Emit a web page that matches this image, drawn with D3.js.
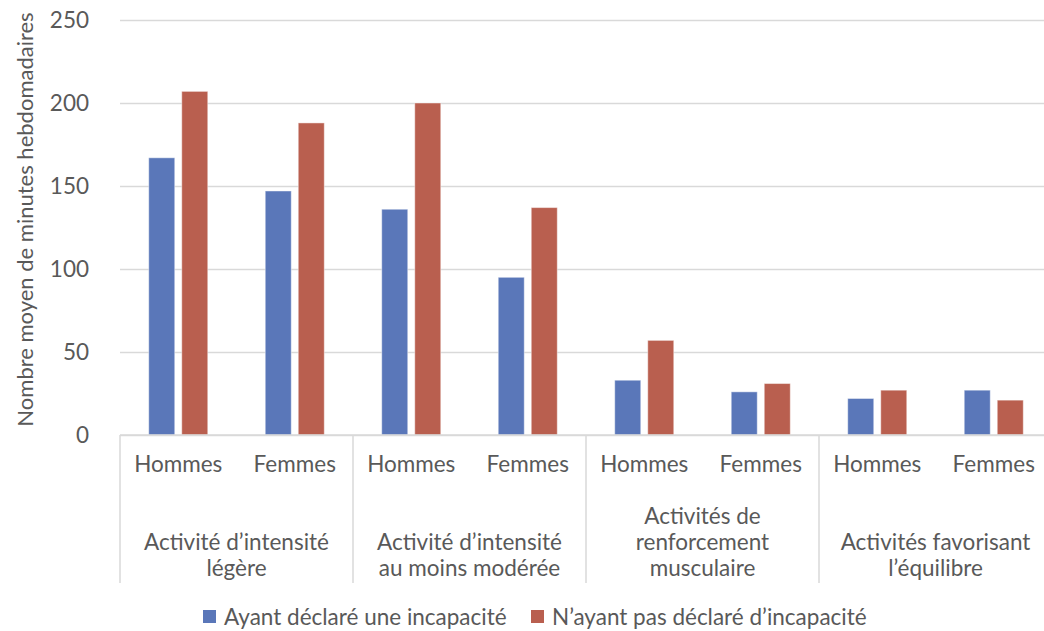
<!DOCTYPE html>
<html>
<head>
<meta charset="utf-8">
<script src="https://cdn.jsdelivr.net/npm/d3@7"></script>
<style>
  html, body { margin: 0; padding: 0; background: #ffffff; }
  svg { display: block; }
  text { font-family: Lato, "Open Sans", sans-serif; fill: #595959; }
</style>
</head>
<body>
<svg id="chart" width="1044" height="631"></svg>
<script>
// Activity groups (label lines) and the sex sub-categories inside each group
const groupLabels = [
  ["Activité d’intensité", "légère"],
  ["Activité d’intensité", "au moins modérée"],
  ["Activités de", "renforcement", "musculaire"],
  ["Activités favorisant", "l’équilibre"]
];
const subgroups = ["Hommes", "Femmes"];
const seriesNames = ["Ayant déclaré une incapacité", "N’ayant pas déclaré d’incapacité"];

// Mean weekly minutes, in order: group 1 Hommes, group 1 Femmes, group 2 Hommes, ...
const avecIncapacite = [167, 147, 136, 95, 33, 26, 22, 27];
const sansIncapacite = [207, 188, 200, 137, 57, 31, 27, 21];

const yTicks = [0, 50, 100, 150, 200, 250];
const yTitle = "Nombre moyen de minutes hebdomadaires";
const colors = ["#5A77B9", "#B95F4F"];

const svg = d3.select("#chart");
const fontSize = 22.5;
const titleSize = 22;

const plot = { left: 120, right: 1052, top: 20, bottom: 435 };

const y = d3.scaleLinear().domain([0, 250]).range([plot.bottom, plot.top]);
const x0 = d3.scaleBand().domain(d3.range(groupLabels.length)).range([plot.left, plot.right]);
const x1 = d3.scaleBand().domain(subgroups).range([0, x0.bandwidth()]);
const x2 = d3.scaleBand().domain(seriesNames).range([0, x1.bandwidth()])
  .paddingInner(0.212).paddingOuter(0.87);

// Horizontal gridlines and value labels
const yAxis = d3.axisLeft(y).tickValues(yTicks).tickSize(0).tickPadding(0);
const gy = svg.append("g").attr("transform", `translate(${plot.left},0)`).call(yAxis);
gy.select(".domain").remove();
gy.selectAll(".tick line").remove();
gy.selectAll(".tick").append("line")
  .attr("x1", 0).attr("x2", plot.right - plot.left)
  .attr("stroke", "#D9D9D9").attr("stroke-width", 1.5);
gy.selectAll(".tick text")
  .attr("x", -31).attr("dy", "0.35em")
  .attr("font-size", fontSize).attr("font-family", "Lato, sans-serif")
  .attr("fill", "#595959").attr("text-anchor", "end");

// Y axis title
svg.append("text")
  .attr("transform", `translate(33,${(14 + 425) / 2}) rotate(-90)`)
  .attr("text-anchor", "middle")
  .attr("font-size", titleSize)
  .text(yTitle);

// Flatten values into bar records
const records = [];
groupLabels.forEach((g, gi) => {
  subgroups.forEach((s, si) => {
    const idx = gi * subgroups.length + si;
    [avecIncapacite[idx], sansIncapacite[idx]].forEach((v, k) => {
      records.push({ gi, sub: s, series: seriesNames[k], k, value: v });
    });
  });
});

svg.append("g").selectAll("rect").data(records).join("rect")
  .attr("x", d => x0(d.gi) + x1(d.sub) + x2(d.series))
  .attr("width", x2.bandwidth())
  .attr("y", d => y(d.value))
  .attr("height", d => y(0) - y(d.value))
  .attr("fill", d => colors[d.k])
  .attr("stroke", "#ffffff").attr("stroke-opacity", 0.45).attr("stroke-width", 1);

// Category axis: baseline and separators
const axisBottom = 583;
svg.append("line")
  .attr("x1", plot.left).attr("x2", plot.right)
  .attr("y1", plot.bottom).attr("y2", plot.bottom)
  .attr("stroke", "#D9D9D9").attr("stroke-width", 1.5);
svg.append("g").selectAll("line")
  .data(d3.range(groupLabels.length + 1))
  .join("line")
  .attr("x1", d => d < groupLabels.length ? x0(d) : plot.right)
  .attr("x2", d => d < groupLabels.length ? x0(d) : plot.right)
  .attr("y1", plot.bottom).attr("y2", axisBottom)
  .attr("stroke", "#D9D9D9").attr("stroke-width", 1.5);

// Sub-category labels
svg.append("g").selectAll("text")
  .data(records.filter(d => d.k === 0))
  .join("text")
  .attr("x", d => x0(d.gi) + x1(d.sub) + x1.bandwidth() / 2)
  .attr("y", 472)
  .attr("text-anchor", "middle")
  .attr("font-size", fontSize)
  .text(d => d.sub);

// Group labels, bottom-aligned
const lineH = 26;
const lastBaseline = 576;
const gl = svg.append("g").selectAll("text")
  .data(groupLabels).join("text")
  .attr("text-anchor", "middle")
  .attr("font-size", fontSize);
gl.each(function (lines, gi) {
  const t = d3.select(this);
  lines.forEach((ln, li) => {
    t.append("tspan")
      .attr("x", x0(gi) + x0.bandwidth() / 2)
      .attr("y", lastBaseline - (lines.length - 1 - li) * lineH)
      .text(ln);
  });
});

// Legend
const legendItems = [
  { name: seriesNames[0], color: colors[0], x: 203 },
  { name: seriesNames[1], color: colors[1], x: 531 }
];
const lg = svg.append("g").selectAll("g").data(legendItems).join("g")
  .attr("transform", d => `translate(${d.x},610)`);
lg.append("rect").attr("width", 13).attr("height", 13).attr("fill", d => d.color);
lg.append("text").attr("x", 21).attr("y", 15).attr("font-size", fontSize).text(d => d.name);
</script>
</body>
</html>
